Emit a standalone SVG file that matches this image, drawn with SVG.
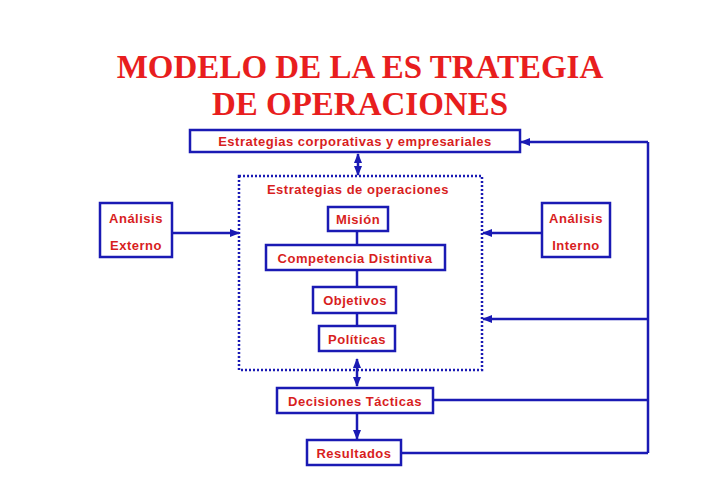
<svg xmlns="http://www.w3.org/2000/svg" width="728" height="504" viewBox="0 0 728 504">
<style>
.b{fill:#fff;stroke:#1a1ab4;stroke-width:2.5}
.t{font-family:"Liberation Sans",Arial,sans-serif;font-weight:bold;font-size:13px;fill:#d81e1e;text-anchor:middle;letter-spacing:0.5px}
.h{font-family:"Liberation Serif","Times New Roman",serif;font-weight:bold;font-size:33px;fill:#e81e1e;text-anchor:middle}
.c{fill:none;stroke:#1a1ab4;stroke-width:2.5}
</style>
<defs><marker id="a" viewBox="0 0 10 10" refX="9" refY="5" markerWidth="4" markerHeight="4" orient="auto-start-reverse"><path d="M0,1L10,5L0,9z" fill="#1a1ab4"/></marker></defs>
<text class="h" x="360" y="78">MODELO DE LA ES TRATEGIA</text>
<text class="h" x="360" y="115">DE OPERACIONES</text>
<g id="connectors">
<path class="c" d="M648,142V453"/>
<path class="c" d="M648,142H521" marker-end="url(#a)"/>
<path class="c" d="M648,319H483" marker-end="url(#a)"/>
<path class="c" d="M433,400H648"/>
<path class="c" d="M401,453H648"/>
<path class="c" d="M172,233H239" marker-end="url(#a)"/>
<path class="c" d="M542,233H483" marker-end="url(#a)"/>
<path class="c" d="M358,154V175" marker-start="url(#a)" marker-end="url(#a)"/>
<path class="c" d="M357,359V386" marker-start="url(#a)" marker-end="url(#a)"/>
<path class="c" d="M357,413V439" marker-end="url(#a)"/>
<path class="c" d="M357,231V245M357,270V287M357,313V326"/>
</g>
<g id="ops"><rect x="239" y="176" width="243" height="194" fill="none" stroke="#1a1ab4" stroke-width="2.5" stroke-dasharray="2,2"/><text class="t" x="358" y="194">Estrategias de operaciones</text></g>
<g id="corp"><rect class="b" x="190" y="130" width="330" height="22"/><text class="t" x="355" y="146">Estrategias corporativas y empresariales</text></g>
<g id="mision"><rect class="b" x="328" y="207" width="60" height="24"/><text class="t" x="358" y="224">Misión</text></g>
<g id="comp"><rect class="b" x="266" y="245" width="179" height="25"/><text class="t" x="355" y="263">Competencia Distintiva</text></g>
<g id="obj"><rect class="b" x="313" y="287" width="83" height="26"/><text class="t" x="355" y="305">Objetivos</text></g>
<g id="pol"><rect class="b" x="319" y="326" width="76" height="25"/><text class="t" x="357" y="344">Políticas</text></g>
<g id="dec"><rect class="b" x="277" y="388" width="156" height="25"/><text class="t" x="355" y="406">Decisiones Tácticas</text></g>
<g id="res"><rect class="b" x="307" y="440" width="94" height="25"/><text class="t" x="354" y="458">Resultados</text></g>
<g id="ext"><rect class="b" x="100" y="203" width="72" height="54"/><text class="t" x="136" y="223">Análisis</text><text class="t" x="136" y="250">Externo</text></g>
<g id="int"><rect class="b" x="542" y="203" width="68" height="54"/><text class="t" x="576" y="223">Análisis</text><text class="t" x="576" y="250">Interno</text></g>
</svg>
